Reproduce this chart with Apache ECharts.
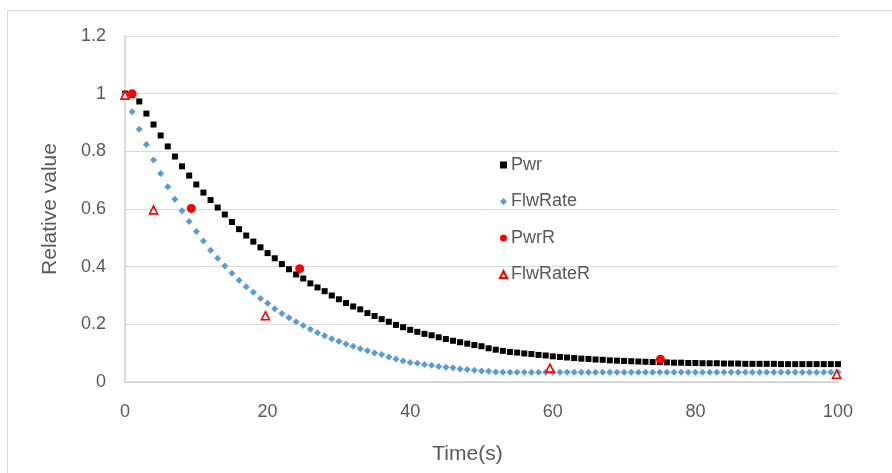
<!DOCTYPE html>
<html>
<head>
<meta charset="utf-8">
<script src="https://cdn.jsdelivr.net/npm/echarts@6/dist/echarts.min.js"></script>
<style>html,body{margin:0;padding:0;background:#fff}#c{width:892px;height:473px}</style>
</head>
<body>
<div id="c"></div>
<script>
const seriesNames = ['Pwr', 'FlwRate', 'PwrR', 'FlwRateR'];
const xTicks = [0, 20, 40, 60, 80, 100];
const yTicks = [0, 0.2, 0.4, 0.6, 0.8, 1, 1.2];

const timeSteps = [0,1,2,3,4,5,6,7,8,9,10,11,12,13,14,15,16,17,18,19,20,21,22,23,24,25,26,27,28,29,30,31,32,33,34,35,36,37,38,39,40,41,42,43,44,45,46,47,48,49,50,51,52,53,54,55,56,57,58,59,60,61,62,63,64,65,66,67,68,69,70,71,72,73,74,75,76,77,78,79,80,81,82,83,84,85,86,87,88,89,90,91,92,93,94,95,96,97,98,99,100];

const pwr = [1.000,0.995,0.973,0.931,0.893,0.855,0.817,0.782,0.748,0.716,0.685,0.657,0.631,0.605,0.581,0.555,0.530,0.508,0.487,0.467,0.447,0.429,0.409,0.391,0.373,0.359,0.342,0.328,0.315,0.300,0.287,0.274,0.262,0.252,0.239,0.229,0.218,0.209,0.198,0.190,0.181,0.174,0.167,0.162,0.155,0.149,0.143,0.138,0.133,0.128,0.124,0.117,0.112,0.108,0.104,0.102,0.099,0.097,0.094,0.092,0.089,0.087,0.085,0.083,0.081,0.080,0.078,0.077,0.075,0.074,0.073,0.072,0.071,0.070,0.069,0.069,0.068,0.067,0.067,0.066,0.066,0.065,0.065,0.065,0.064,0.064,0.064,0.063,0.063,0.063,0.063,0.063,0.062,0.062,0.062,0.062,0.062,0.062,0.062,0.062,0.062];

const flwRate = [1.000,0.937,0.877,0.824,0.770,0.723,0.677,0.634,0.594,0.557,0.522,0.489,0.457,0.429,0.402,0.377,0.353,0.330,0.311,0.290,0.273,0.254,0.238,0.223,0.209,0.196,0.183,0.171,0.160,0.150,0.141,0.132,0.124,0.115,0.108,0.101,0.095,0.087,0.080,0.073,0.068,0.065,0.061,0.058,0.054,0.051,0.049,0.045,0.043,0.041,0.038,0.037,0.035,0.034,0.034,0.034,0.034,0.034,0.034,0.034,0.034,0.034,0.034,0.034,0.034,0.034,0.034,0.034,0.034,0.034,0.034,0.034,0.034,0.034,0.034,0.034,0.034,0.034,0.034,0.034,0.034,0.034,0.034,0.034,0.034,0.034,0.034,0.034,0.034,0.034,0.034,0.034,0.034,0.034,0.034,0.034,0.034,0.034,0.034,0.034,0.034];

const pwrRTimes = [1, 9.3, 24.5, 75.1];
const pwrRValues = [1.0, 0.602, 0.393, 0.079];

const flwRateRTimes = [0, 4.0, 19.7, 59.6, 99.8];
const flwRateRValues = [0.995, 0.597, 0.230, 0.048, 0.027];

function pairs(xs, ys) { return xs.map((x, i) => [x, ys[i]]); }

const FONT = '"Liberation Sans", Arial, sans-serif';
const GREY = '#595959';

const chart = echarts.init(document.getElementById('c'), null, {renderer: 'canvas'});
chart.setOption({
  animation: false,
  backgroundColor: '#ffffff',
  textStyle: {fontFamily: FONT},
  graphic: [{
    type: 'rect', silent: true, z: -10,
    shape: {x: 7.5, y: 10.5, width: 1000, height: 1000},
    style: {fill: 'none', stroke: '#d9d9d9', lineWidth: 1}
  }],
  grid: {left: 125, right: 54, top: 36, bottom: 91, containLabel: false},
  xAxis: {
    type: 'value', min: xTicks[0], max: xTicks[xTicks.length - 1], interval: 20,
    name: 'Time(s)', nameLocation: 'middle', nameGap: 62,
    nameTextStyle: {color: GREY, fontSize: 21, fontFamily: FONT, padding: [0, 28, 0, 0]},
    axisLine: {show: true, lineStyle: {color: '#d0d0d0', width: 1.5}},
    axisTick: {show: false},
    splitLine: {show: false},
    axisLabel: {color: GREY, fontSize: 18, fontFamily: FONT, margin: 21}
  },
  yAxis: {
    type: 'value', min: yTicks[0], max: yTicks[yTicks.length - 1], interval: 0.2,
    name: 'Relative value', nameLocation: 'middle', nameGap: 64, nameRotate: 90,
    nameTextStyle: {color: GREY, fontSize: 21, fontFamily: FONT},
    axisLine: {show: true, lineStyle: {color: '#d0d0d0', width: 1.5}},
    axisTick: {show: false},
    splitLine: {show: true, lineStyle: {color: '#d9d9d9', width: 1}},
    axisLabel: {color: GREY, fontSize: 18, fontFamily: FONT, margin: 19,
      formatter: v => String(Math.round(v * 10) / 10)}
  },
  legend: {
    orient: 'vertical', left: 494, top: 151,
    itemWidth: 7, itemHeight: 7, itemGap: 18.5,
    textStyle: {color: GREY, fontSize: 18, fontFamily: FONT, padding: [0, 0, 0, -1]},
    data: [
      {name: seriesNames[0], icon: 'rect'},
      {name: seriesNames[1], icon: 'diamond'},
      {name: seriesNames[2], icon: 'circle'},
      {name: seriesNames[3], icon: 'triangle'}
    ]
  },
  series: [
    {name: seriesNames[0], type: 'scatter', symbol: 'rect', symbolSize: 6,
     itemStyle: {color: '#000000', opacity: 1}, data: pairs(timeSteps, pwr)},
    {name: seriesNames[1], type: 'scatter', symbol: 'diamond', symbolSize: 7,
     itemStyle: {color: '#5b9bd5', opacity: 1}, data: pairs(timeSteps, flwRate)},
    {name: seriesNames[2], type: 'scatter', symbol: 'circle', symbolSize: 9,
     itemStyle: {color: '#ff0000', opacity: 1}, data: pairs(pwrRTimes, pwrRValues)},
    {name: seriesNames[3], type: 'scatter', symbol: 'triangle', symbolSize: 8,
     itemStyle: {color: '#ffffff', borderColor: '#ff0000', borderWidth: 1.6, opacity: 1},
     data: pairs(flwRateRTimes, flwRateRValues)}
  ]
});
</script>
</body>
</html>
